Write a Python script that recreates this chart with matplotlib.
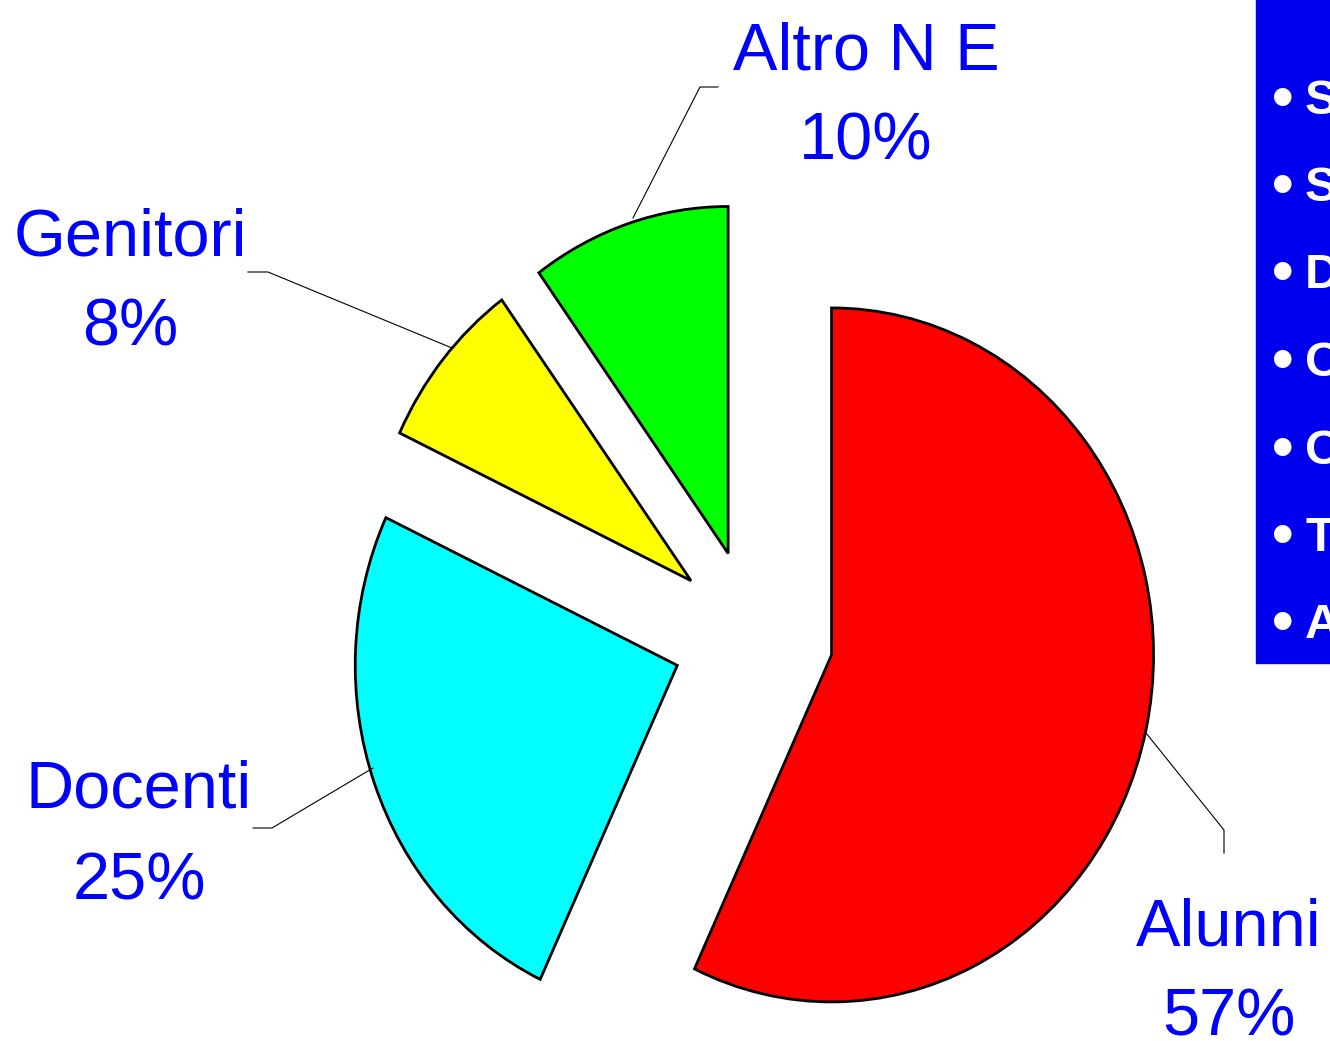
import numpy as np
import matplotlib.pyplot as plt
from matplotlib.patches import Rectangle

# data
labels = ['Alunni', 'Docenti', 'Genitori', 'Altro N E']
values = [57, 25, 8, 10]
colors = ['#ff0000', '#00ffff', '#ffff00', '#00ff00']
bullets = ['S', 'S', 'D', 'O', 'O', 'T', 'A']

plt.rcParams['font.family'] = ['Liberation Sans', 'DejaVu Sans']

W, H = 1330, 1041
R = 322
sy = 347 / 322.0  # pie is a bit taller than wide

fig = plt.figure(figsize=(W / 100, H / 100), dpi=100)
ax = fig.add_axes([0, 0, 1, 1])


def px(x, y):
    # pixel position -> data coords
    return x, (H - y) / sy


# explode is in data units here, so scale it by the radius
ax.pie(values, colors=colors, startangle=90, counterclock=False,
       explode=[0.25 * R] * 4, radius=R, center=px(753, 636),
       wedgeprops=dict(edgecolor='black', linewidth=2))
ax.set_aspect('auto')
ax.set_xlim(0, W)
ax.set_ylim(0, H / sy)
ax.axis('off')

# leader lines
leaders = [
    [(1146, 733), (1224, 830), (1224, 853)],
    [(373, 768), (272, 828), (253, 828)],
    [(452, 348), (268, 272), (248, 272)],
    [(633, 218), (700, 87), (718, 87)],
]
for pts in leaders:
    xs, ys = zip(*[px(*p) for p in pts])
    ax.plot(xs, ys, color='black', lw=0.8)

# labels
label_pos = [(1229, 945, 1035), (139, 808, 900), (130, 255, 345), (866, 70, 160)]
for name, v, (x, y1, y2) in zip(labels, values, label_pos):
    ax.text(*px(x, y1), name, ha='center', va='baseline', fontsize=48, color='#0000ff')
    ax.text(*px(x, y2), '%d%%' % v, ha='center', va='baseline', fontsize=48, color='#0000ff')

# blue box on the right
x0, y0 = px(1256, 663)
ax.add_patch(Rectangle((x0, y0), W - x0 + 10, H / sy - y0 + 10, color='#0000ee', zorder=3))
for i, b in enumerate(bullets):
    ax.text(*px(1272, 101 + i * 87.5), '\u2022', ha='left', va='center',
            fontsize=44, fontweight='bold', color='white', zorder=4)
    ax.text(*px(1305, 101 + i * 87.5), b, ha='left', va='center',
            fontsize=35, fontweight='bold', color='white', zorder=4)

fig.savefig('out.png', dpi=100)
